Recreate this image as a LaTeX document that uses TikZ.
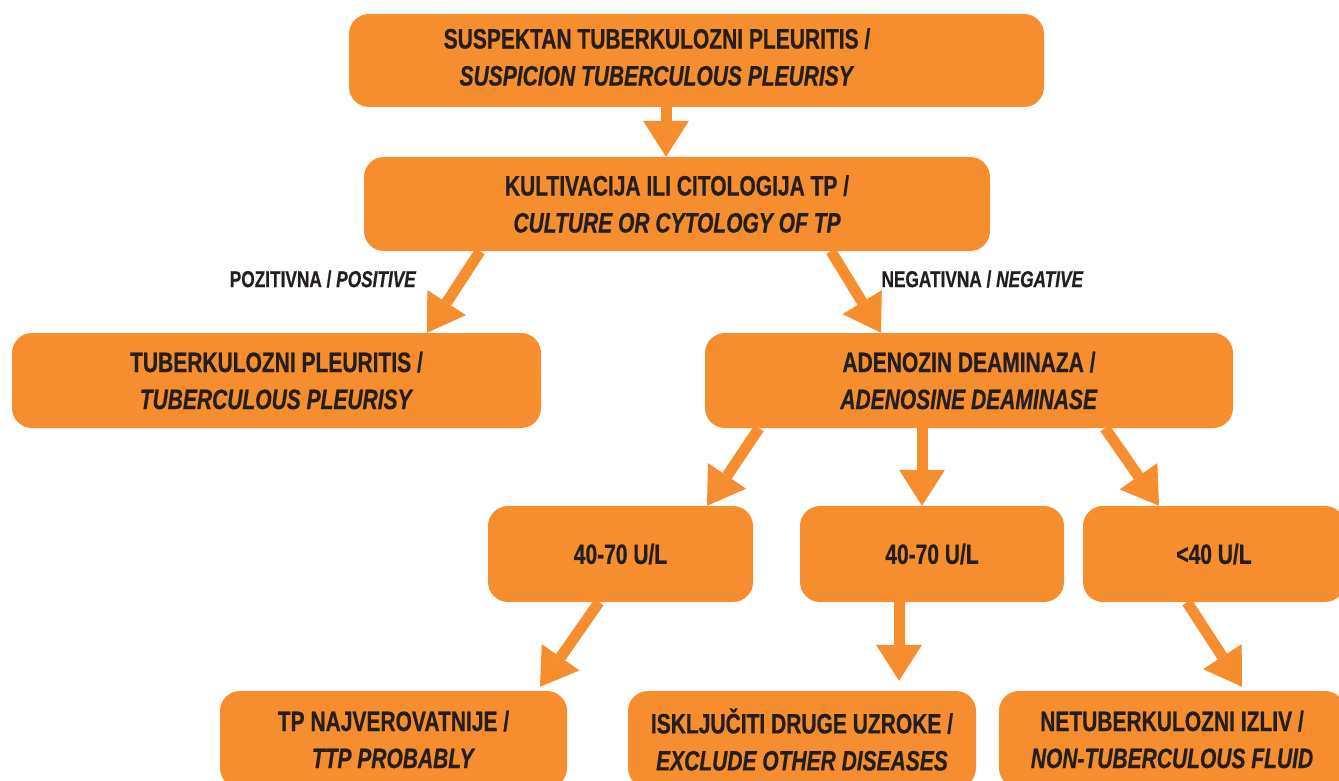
\documentclass[tikz,border=0pt]{standalone}
\usepackage{fontspec}
\setmainfont{Liberation Sans}[FakeStretch=0.75, BoldFeatures={FakeBold=0.6}, BoldItalicFeatures={FakeBold=0.6}]
\usetikzlibrary{arrows.meta}
\definecolor{boxorange}{HTML}{F68D2E}
\definecolor{inkdark}{HTML}{231F20}

\begin{document}
\begin{tikzpicture}[x=1pt, y=-1pt,
	boxtext/.style={text=inkdark, align=center, font=\fontsize{28}{37}\selectfont\bfseries},
	flowbox/.style={boxtext, fill=boxorange, rounded corners=20pt, inner sep=0pt},
	flowarrow/.style={draw=boxorange, line width=11pt, -{Triangle[width=46pt, length=36pt, line width=0pt]}},
	branchlabel/.style={text=inkdark, font=\fontsize{23}{27}\selectfont\bfseries}]
			%%%%% START %%%%%
			\useasboundingbox (0, 0) rectangle (1339, 781);
			
			\node[flowbox, minimum width=695pt, minimum height=93pt] (suspect) at (696.5, 60.5) {};
			\node[boxtext] (suspecttext) at (657, 57) {SUSPEKTAN TUBERKULOZNI PLEURITIS /\\ \textit{SUSPICION TUBERCULOUS PLEURISY}};
			\node[flowbox, minimum width=626pt, minimum height=94pt] (culture) at (677, 204) {KULTIVACIJA ILI CITOLOGIJA TP /\\ \textit{CULTURE OR CYTOLOGY OF TP}};
			
			\node[flowbox, minimum width=529pt, minimum height=95pt] (tbpositive) at (276.5, 380.5) {TUBERKULOZNI PLEURITIS /\\ \textit{TUBERCULOUS PLEURISY}};
			\node[flowbox, minimum width=528pt, minimum height=95pt] (ada) at (969, 380.5) {ADENOZIN DEAMINAZA /\\ \textit{ADENOSINE DEAMINASE}};
			
			\node[flowbox, minimum width=265pt, minimum height=96pt] (adaleft) at (620.5, 554) {40-70 U/L};
			\node[flowbox, minimum width=264pt, minimum height=96pt] (adacentre) at (932, 554) {40-70 U/L};
			\node[flowbox, minimum width=262pt, minimum height=96pt] (adalow) at (1214, 554) {<40 U/L};
			
			\node[flowbox, minimum width=347pt, minimum height=97pt] (tpprobable) at (393.5, 739.5) {TP NAJVEROVATNIJE /\\ \textit{TTP PROBABLY}};
			\node[flowbox, minimum width=348pt, minimum height=97pt] (excludeother) at (802, 739.5) {ISKLJUČITI DRUGE UZROKE /\\ \textit{EXCLUDE OTHER DISEASES}};
			\node[flowbox, minimum width=346pt, minimum height=97pt] (nontb) at (1172, 739.5) {NETUBERKULOZNI IZLIV /\\ \textit{NON-TUBERCULOUS FLUID}};
			
			\node[branchlabel] (poslabel) at (323, 279) {POZITIVNA / \textit{POSITIVE}};
			\node[branchlabel] (neglabel) at (982.5, 279) {NEGATIVNA / \textit{NEGATIVE}};
			
			% arrows
			\draw[flowarrow] ([xshift=-30.5pt]suspect.south) -- ([xshift=-11pt]culture.north);
			\draw[flowarrow] ([xshift=-197pt]culture.south) -- ([xshift=150.5pt]tbpositive.north);
			\draw[flowarrow] ([xshift=154pt]culture.south) -- ([xshift=-88pt]ada.north);
			
			\draw[flowarrow] ([xshift=-210pt]ada.south) -- ([xshift=86.5pt]adaleft.north);
			\draw[flowarrow] ([xshift=-47pt]ada.south) -- ([xshift=-10pt]adacentre.north);
			\draw[flowarrow] ([xshift=136pt]ada.south) -- ([xshift=-55pt]adalow.north);
			
			\draw[flowarrow] ([xshift=-21.5pt]adaleft.south) -- ([xshift=146.5pt, yshift=4pt]tpprobable.north);
			\draw[flowarrow] ([xshift=-33pt]adacentre.south) -- ([xshift=97pt, yshift=10pt]excludeother.north);
			\draw[flowarrow] ([xshift=-27pt]adalow.south) -- ([xshift=70pt, yshift=4pt]nontb.north);
			%%%%% END %%%%%
\end{tikzpicture}
\end{document}
